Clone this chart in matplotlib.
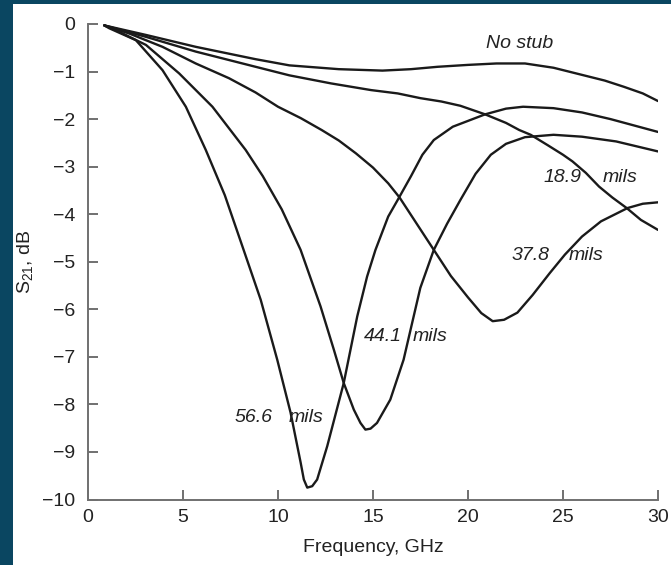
"""S21 vs frequency for open stubs of different length."""
import matplotlib
matplotlib.use('Agg')
import matplotlib.pyplot as plt
from matplotlib.patches import Rectangle

plt.rcParams['font.family'] = ['Liberation Sans', 'DejaVu Sans']
plt.rcParams['mathtext.default'] = 'regular'

# ── Data ──────────────────────────────────────────────────
f_nostub = [0.86, 3.05, 5.67, 8.82, 10.6, 13.2, 15.5, 17.0, 18.4, 20.0, 21.5, 23.0, 24.5,
            26.0, 27.2, 28.2, 29.2, 30.0]
s_nostub = [-0.03, -0.23, -0.48, -0.74, -0.87, -0.95, -0.98, -0.95, -0.90, -0.86, -0.83, -0.83, -0.92,
            -1.07, -1.19, -1.32, -1.46, -1.62]

f_189 = [0.86, 3.05, 5.67, 8.82, 10.6, 12.8, 14.9, 16.3, 17.5, 18.6, 19.6, 20.9, 22.0, 22.7,
         23.3, 24.2, 25.0, 25.5, 26.2, 26.9, 27.6, 28.35, 29.1, 30.0]
s_189 = [-0.03, -0.27, -0.58, -0.90, -1.08, -1.25, -1.39, -1.46, -1.56, -1.63, -1.72, -1.90, -2.08, -2.23,
         -2.33, -2.55, -2.75, -2.89, -3.13, -3.42, -3.65, -3.87, -4.12, -4.33]

f_378 = [0.86, 2.17, 3.92, 5.67, 7.42, 8.82, 10.0, 11.2, 12.3, 13.2, 14.1, 15.0, 15.8, 16.4,
         17.3, 18.2, 19.1, 20.0, 20.7, 21.3, 21.9, 22.6, 23.4, 24.3, 25.1, 26.0, 27.0, 28.4,
         29.2, 30.0]
s_378 = [-0.03, -0.20, -0.48, -0.83, -1.14, -1.44, -1.74, -1.98, -2.23, -2.45, -2.72, -3.02, -3.35, -3.65,
         -4.20, -4.75, -5.30, -5.75, -6.08, -6.25, -6.22, -6.07, -5.70, -5.24, -4.85, -4.47, -4.15, -3.87,
         -3.78, -3.75]

f_441 = [0.86, 1.47, 3.05, 4.8, 6.55, 8.3, 9.2, 10.2, 11.19, 12.24, 12.94, 13.46, 13.99, 14.34,
         14.6, 14.87, 15.21, 15.91, 16.61, 17.14, 17.49, 18.2, 18.9, 19.6, 20.4, 21.2, 22.0, 23.0,
         24.5, 26.0, 27.8, 30.0]
s_441 = [-0.03, -0.13, -0.44, -1.04, -1.74, -2.65, -3.20, -3.90, -4.75, -5.94, -6.85, -7.55, -8.11, -8.39,
         -8.53, -8.51, -8.39, -7.90, -7.06, -6.15, -5.55, -4.75, -4.20, -3.70, -3.15, -2.75, -2.52, -2.38,
         -2.33, -2.37, -2.47, -2.68]

f_566 = [0.86, 1.12, 2.52, 3.92, 5.15, 6.2, 7.2, 8.19, 9.09, 9.96, 10.66, 11.19, 11.36, 11.54,
         11.8, 12.06, 12.59, 13.46, 14.17, 14.69, 15.13, 15.8, 16.3, 17.0, 17.6, 18.2, 19.2, 20.9,
         22.0, 22.9, 24.5, 26.0, 27.5, 30.0]
s_566 = [-0.03, -0.09, -0.34, -0.97, -1.74, -2.65, -3.60, -4.75, -5.80, -7.06, -8.17, -9.22, -9.58, -9.75,
         -9.72, -9.58, -8.88, -7.55, -6.15, -5.31, -4.75, -4.05, -3.70, -3.20, -2.75, -2.44, -2.16, -1.90,
         -1.78, -1.74, -1.77, -1.86, -2.00, -2.27]

x_ticks = [0, 5, 10, 15, 20, 25, 30]
y_ticks = [0, -1, -2, -3, -4, -5, -6, -7, -8, -9, -10]

# ── Figure ────────────────────────────────────────────────
C_FRAME = '#0a4661'
C_LINE = '#1a1a1a'
C_AXIS = '#707070'
C_TEXT = '#222222'

fig = plt.figure(figsize=(6.71, 5.65), dpi=100)
fig.patch.set_facecolor(C_FRAME)
fig.add_artist(Rectangle((13 / 671, 0), 1, 1 - 4 / 565, transform=fig.transFigure,
                         facecolor='white', edgecolor='none', zorder=0))

ax = fig.add_axes([88 / 671, 1 - 499.5 / 565, 570 / 671, 475.5 / 565])
ax.set_facecolor('none')

for fx, sy in [(f_nostub, s_nostub), (f_189, s_189), (f_378, s_378),
               (f_441, s_441), (f_566, s_566)]:
    ax.plot(fx, sy, color=C_LINE, lw=1.7, solid_capstyle='round',
            solid_joinstyle='round', zorder=3)

ax.set_xlim(0, 30)
ax.set_ylim(-10, 0)
ax.set_xticks(x_ticks)
ax.set_yticks(y_ticks)
ax.set_yticklabels([str(v).replace('-', '\u2212') for v in y_ticks])

for side in ['top', 'right']:
    ax.spines[side].set_visible(False)
for side in ['left', 'bottom']:
    ax.spines[side].set_color(C_AXIS)
    ax.spines[side].set_linewidth(1.4)
ax.tick_params(direction='in', length=7, width=1.4, color=C_AXIS,
               labelsize=14, labelcolor=C_TEXT)
ax.tick_params(axis='y', pad=9)
ax.tick_params(axis='x', pad=7)

# ── Curve labels ──────────────────────────────────────────
lab = dict(fontsize=14, style='italic', color=C_TEXT, ha='center', va='center')
ax.text(22.7, -0.40, 'No stub', **lab)
ax.text(24.95, -3.22, '18.9', **lab)
ax.text(28.0, -3.22, 'mils', **lab)
ax.text(23.3, -4.87, '37.8', **lab)
ax.text(26.2, -4.87, 'mils', **lab)
ax.text(15.5, -6.57, '44.1', **lab)
ax.text(18.0, -6.57, 'mils', **lab)
ax.text(8.69, -8.27, '56.6', **lab)
ax.text(11.48, -8.27, 'mils', **lab)

# ── Axis titles ───────────────────────────────────────────
fig.text(373 / 671, 1 - 548 / 565, 'Frequency, GHz', ha='center', va='center',
         fontsize=14, color=C_TEXT)
fig.text(25 / 671, 1 - 262 / 565, 'S$_{21}$, dB', ha='center', va='center',
         rotation=90, fontsize=14, color=C_TEXT)

fig.savefig('out.png', dpi=100, facecolor=C_FRAME)
